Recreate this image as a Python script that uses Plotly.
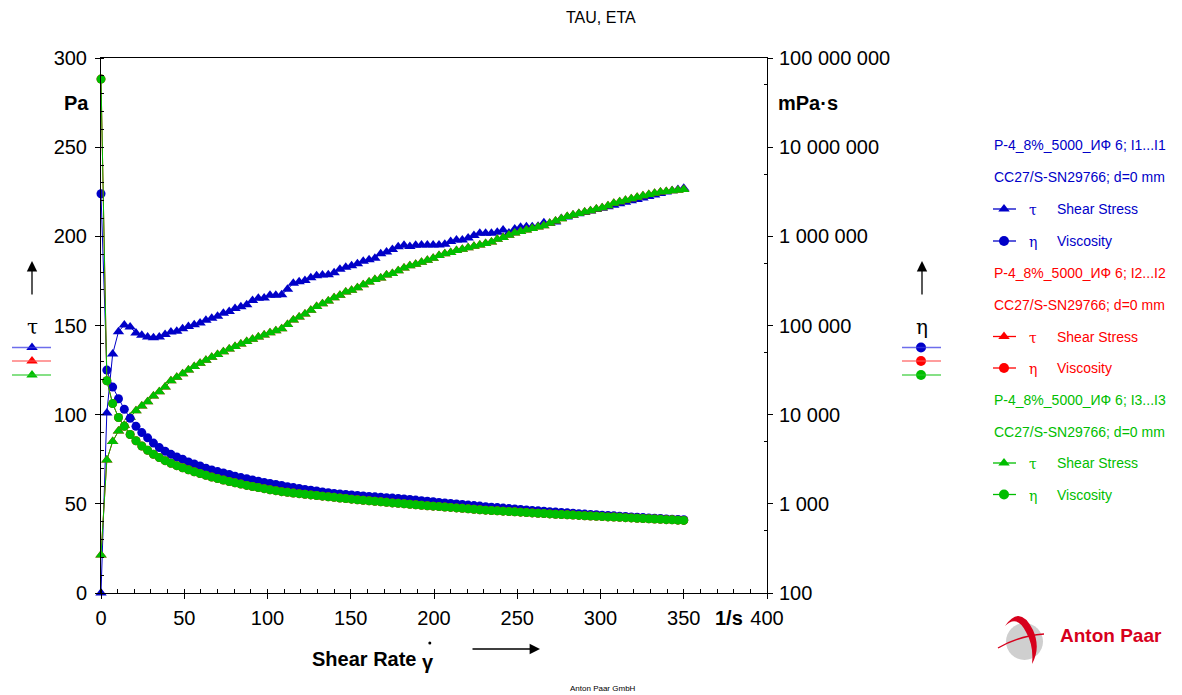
import plotly.graph_objects as go

# ---------------- data ----------------
shear_rate = [0, 3.5, 7, 10.5, 14, 17.5, 21, 24.5, 28, 31.5,
              35, 38.5, 42, 45.5, 49, 52.5, 56, 59.5, 63, 66.5,
              70, 73.5, 77, 80.5, 84, 87.5, 91, 94.5, 98, 101.5,
              105, 108.5, 112, 115.5, 119, 122.5, 126, 129.5, 133, 136.5,
              140, 143.5, 147, 150.5, 154, 157.5, 161, 164.5, 168, 171.5,
              175, 178.5, 182, 185.5, 189, 192.5, 196, 199.5, 203, 206.5,
              210, 213.5, 217, 220.5, 224, 227.5, 231, 234.5, 238, 241.5,
              245, 248.5, 252, 255.5, 259, 262.5, 266, 269.5, 273, 276.5,
              280, 283.5, 287, 290.5, 294, 297.5, 301, 304.5, 308, 311.5,
              315, 318.5, 322, 325.5, 329, 332.5, 336, 339.5, 343, 346.5,
              350]

blue_tau = [0, 101, 134, 146.5, 150.3, 149.2, 145.8, 144.5, 143.6, 143.2,
            143.6, 144.9, 146.4, 146.8, 148.2, 149.4, 150.4, 151.4, 153, 154.1,
            155.2, 156.8, 157.9, 159.6, 160.5, 161.6, 164, 165.3, 165.4, 167,
            167, 167.2, 170.3, 173.7, 174.5, 175.3, 176.8, 177.9, 178.3, 178.5,
            179.6, 181.6, 182.7, 183.5, 184.6, 186, 186.8, 187.7, 190.2, 191.2,
            192.6, 194.2, 195, 194.3, 195, 195.1, 195.1, 195.1, 195.1, 195.6,
            197.1, 198, 198, 199.1, 200.4, 201.7, 201.7, 201.7, 202.3, 203.5,
            201.9, 204.1, 205.1, 205.4, 205.4, 205.7, 207.6, 207.2, 208, 210,
            210.9, 211.8, 212.6, 213.4, 214.2, 215, 215.8, 216.6, 217.5, 218.3,
            219.1, 219.9, 220.7, 221.5, 222.3, 223.2, 224, 224.8, 225.6, 226.3,
            226.9]

blue_eta = [3000000, 31600, 20400, 15100, 11500, 9100, 7400, 6300, 5500, 4800,
            4270, 3890, 3590, 3350, 3160, 2950, 2800, 2655, 2510, 2400,
            2300, 2215, 2130, 2040, 1970, 1915, 1850, 1790, 1740, 1690,
            1650, 1605, 1556, 1520, 1486, 1452, 1422, 1393, 1361, 1334,
            1309, 1292, 1275, 1258, 1242, 1227, 1212, 1198, 1186, 1172,
            1160, 1148, 1135, 1118, 1102, 1086, 1070, 1054, 1038, 1024,
            1010, 996, 982, 968, 956, 944, 930, 918, 907, 896,
            884, 874, 864, 854, 844, 835, 826, 816, 808, 800,
            792, 784, 776, 768, 761, 754, 747, 740, 733, 726,
            720, 713, 707, 701, 695, 689, 684, 678, 673, 668,
            663]

green_tau = [21.3, 74.6, 85, 90.8, 94, 98.5, 102.2, 104.8, 107.2, 110.5,
             112.8, 115.5, 119, 121, 123, 125, 127, 128.8, 130.5, 132.2,
             133.8, 135.3, 136.8, 138.2, 139.6, 141, 142.3, 143.5, 144.7, 145.9,
             147, 148.2, 150.6, 153.1, 154.8, 156.4, 158.6, 160.6, 162.2, 163.8,
             165.6, 167, 168.8, 169.8, 171.1, 172.8, 174.4, 175.8, 176.7, 178.3,
             179.2, 180.7, 182.3, 183.5, 184.3, 185.4, 186.6, 187.7, 189.2, 190.3,
             191, 192, 192.8, 193.6, 194.4, 195.1, 196, 196.8, 198.3, 199.4,
             200.6, 201.9, 202.7, 203.5, 204.4, 205.2, 206, 207.3, 208.6, 209.8,
             211.1, 212, 212.8, 213.6, 214.4, 215.3, 216, 217.1, 218.6, 219.4,
             220.3, 221.1, 221.9, 222.7, 223.5, 224.2, 224.8, 225.2, 225.6, 225.9,
             226.2]

green_eta = [58000000, 24000, 13300, 9300, 7400, 6000, 5100, 4450, 3980, 3600,
             3300, 3050, 2850, 2680, 2540, 2410, 2290, 2190, 2090, 2000,
             1920, 1850, 1780, 1720, 1665, 1610, 1565, 1520, 1480, 1440,
             1405, 1370, 1345, 1320, 1300, 1280, 1260, 1240, 1220, 1200,
             1183, 1164, 1148, 1128, 1111, 1097, 1083, 1068, 1052, 1040,
             1025, 1013, 1002, 990, 977, 965, 953, 941, 932, 922,
             911, 900, 890, 879, 869, 859, 850, 841, 834, 827,
             820, 813, 806, 798, 791, 784, 777, 771, 765, 759,
             754, 748, 742, 736, 730, 725, 719, 714, 710, 705,
             700, 695, 690, 685, 680, 675, 670, 665, 661, 656,
             652]

# interval 2 (red) lies underneath interval 3 (green) in the reference
red_tau = green_tau
red_eta = green_eta

x_ticks = [0, 50, 100, 150, 200, 250, 300, 350, 400]
tau_ticks = [0, 50, 100, 150, 200, 250, 300]
eta_ticks = [100, 1000, 10000, 100000, 1000000, 10000000, 100000000]
eta_ticktext = ["100", "1 000", "10 000", "100 000", "1 000 000", "10 000 000", "100 000 000"]
eta_minor = [500, 5000, 50000, 500000, 5000000, 50000000]

legend_rows = [
    ("P-4_8%_5000_ИФ 6; I1...I1", "CC27/S-SN29766; d=0 mm", "blue"),
    ("P-4_8%_5000_ИФ 6; I2...I2", "CC27/S-SN29766; d=0 mm", "red"),
    ("P-4_8%_5000_ИФ 6; I3...I3", "CC27/S-SN29766; d=0 mm", "green"),
]

# ---------------- styling ----------------
W, H = 1182, 695
PX0, PX1 = 101, 767
PY0, PY1 = 58, 593
FONT = "Liberation Sans, Arial, sans-serif"
COL = {"blue": "#0000C8", "red": "#FF0000", "green": "#00BE00"}
LINECOL = {"blue": "rgba(60,60,230,0.75)", "red": "rgba(255,80,80,0.75)", "green": "rgba(40,200,40,0.75)"}

fig = go.Figure()

series = [("blue", blue_tau, blue_eta), ("red", red_tau, red_eta), ("green", green_tau, green_eta)]
for key, tau, eta in series:
    c = COL[key]
    fig.add_trace(go.Scatter(x=shear_rate, y=tau, mode="lines+markers", xaxis="x", yaxis="y",
                             line=dict(color=c, width=1),
                             marker=dict(symbol="triangle-up", size=10, color=c, line=dict(width=0)),
                             cliponaxis=False, showlegend=False, hoverinfo="skip"))
    fig.add_trace(go.Scatter(x=shear_rate, y=eta, mode="lines+markers", xaxis="x", yaxis="y2",
                             line=dict(color=c, width=1),
                             marker=dict(symbol="circle", size=9, color=c, line=dict(width=0)),
                             cliponaxis=False, showlegend=False, hoverinfo="skip"))

shapes = []
annotations = []

def ann(x, y, text, size=14, color="black", xanchor="center", yanchor="middle", bold=False, family=FONT):
    annotations.append(dict(x=x, y=y, xref="x3", yref="y3", text=("<b>%s</b>" % text) if bold else text,
                            showarrow=False, xanchor=xanchor, yanchor=yanchor,
                            font=dict(family=family, size=size, color=color)))

# title and footer
ann(601, 17, "TAU, ETA", size=16)
ann(603, 688, "Anton Paar GmbH", size=8)

# axis unit labels
ann(91, 103, "Pa", size=20, bold=True, xanchor="right")
ann(776, 103, "mPa·s", size=20, bold=True, xanchor="left")
ann(729, 618, "1/s", size=20, bold=True)

# x-axis title
ann(310, 659, "Shear Rate", size=20, bold=True, xanchor="left")
ann(428, 662, "γ", size=20, bold=True)
shapes.append(dict(type="circle", xref="x3", yref="y3", x0=428.3, x1=431.3, y0=641.5, y1=644.5,
                   fillcolor="black", line=dict(width=0)))
annotations.append(dict(x=540, y=649, ax=471, ay=649, xref="x3", yref="y3", axref="x3", ayref="y3",
                        showarrow=True, arrowhead=2, arrowsize=1.6, arrowwidth=1.3, arrowcolor="black", text=""))

# left and right y-axis symbols with arrows
for xc, sym in [(32, "τ"), (922, "η")]:
    annotations.append(dict(x=xc, y=261, ax=xc, ay=296, xref="x3", yref="y3", axref="x3", ayref="y3",
                            showarrow=True, arrowhead=2, arrowsize=1.6, arrowwidth=1.3, arrowcolor="black", text=""))
    ann(xc, 327, sym, size=20, family="DejaVu Serif, serif")

# small swatches beside the axes
sw_y = {"blue": 347.5, "red": 361, "green": 375}
mk_x, mk_y, mk_c, mk_s = [], [], [], []
for key, yy in sw_y.items():
    shapes.append(dict(type="line", xref="x3", yref="y3", x0=12, x1=51, y0=yy, y1=yy,
                       line=dict(color=LINECOL[key], width=1.5)))
    shapes.append(dict(type="line", xref="x3", yref="y3", x0=902, x1=941, y0=yy, y1=yy,
                       line=dict(color=LINECOL[key], width=1.5)))
    mk_x += [32, 921]; mk_y += [yy, yy]; mk_c += [COL[key], COL[key]]; mk_s += ["triangle-up", "circle"]

# right-hand legend
row_y = [145, 177, 209, 241, 272.5, 304.5, 336.5, 368, 400, 431.5, 463, 494.5]
for i, (l1, l2, key) in enumerate(legend_rows):
    c = COL[key]
    ann(992, row_y[4 * i], l1, size=14, color=c, xanchor="left")
    ann(992, row_y[4 * i + 1], l2, size=14, color=c, xanchor="left")
    for j, (sym, mark, label) in enumerate([("τ", "triangle-up", "Shear Stress"), ("η", "circle", "Viscosity")]):
        yy = row_y[4 * i + 2 + j]
        shapes.append(dict(type="line", xref="x3", yref="y3", x0=993, x1=1016, y0=yy, y1=yy,
                           line=dict(color=c, width=1.3)))
        mk_x.append(1004); mk_y.append(yy); mk_c.append(c); mk_s.append(mark)
        ann(1033, yy + 1, sym, size=14, color=c, family="DejaVu Serif, serif")
        ann(1055, yy, label, size=14, color=c, xanchor="left")

fig.add_trace(go.Scatter(x=mk_x, y=mk_y, mode="markers", xaxis="x3", yaxis="y3",
                         marker=dict(symbol=mk_s, color=mk_c, size=10, line=dict(width=0)),
                         showlegend=False, hoverinfo="skip", cliponaxis=False))

# Anton Paar logo (approximation)
shapes.append(dict(type="circle", xref="x3", yref="y3", x0=1006, x1=1043, y0=623, y1=660,
                   fillcolor="#CFCFCF", line=dict(width=0), layer="above"))
shapes.append(dict(type="path", xref="x3", yref="y3",
                   path="M 1005 626 Q 1020 604 1033 630 Q 1041 648 1032 664 Q 1034 646 1026 632 Q 1017 614 1005 626 Z",
                   fillcolor="#D7001C", line=dict(width=0), layer="above"))
shapes.append(dict(type="path", xref="x3", yref="y3", path="M 998 648 Q 1018 636 1044 634",
                   line=dict(color="#D7001C", width=1.4), layer="above"))
ann(1058, 635, "Anton Paar", size=19, color="#D7001C", bold=True, xanchor="left")

axis_common = dict(showgrid=False, zeroline=False, showline=True, linecolor="black", linewidth=1,
                   ticks="outside", ticklen=5, tickcolor="black", tickwidth=1, automargin=False,
                   tickfont=dict(family=FONT, size=20, color="black"))

fig.update_layout(
    width=W, height=H,
    margin=dict(l=0, r=0, t=0, b=0, pad=0, autoexpand=False),
    paper_bgcolor="white", plot_bgcolor="rgba(0,0,0,0)",
    showlegend=False,
    hovermode=False,
    xaxis=dict(domain=[PX0 / W, PX1 / W], range=[0, 400], tickvals=x_ticks, anchor="y", mirror=True,
               minor=dict(dtick=10, tick0=0, ticks="inside", ticklen=4, tickcolor="black"),
               ticklabelstandoff=2, **axis_common),
    yaxis=dict(domain=[(H - PY1) / H, (H - PY0) / H], range=[0, 300], tickvals=tau_ticks, anchor="x",
               minor=dict(dtick=10, tick0=0, ticks="inside", ticklen=3, tickcolor="black"),
               ticklabelstandoff=4, **axis_common),
    yaxis2=dict(type="log", range=[2, 8], overlaying="y", side="right", anchor="x",
                tickvals=eta_ticks, ticktext=eta_ticktext,
                minor=dict(tickvals=eta_minor, ticks="inside", ticklen=3, tickcolor="black"),
                ticklabelstandoff=2, **axis_common),
    xaxis3=dict(domain=[0, 1], range=[0, W], visible=False, anchor="y3", fixedrange=True, automargin=False),
    yaxis3=dict(domain=[0, 1], range=[H, 0], visible=False, anchor="x3", fixedrange=True, automargin=False),
    shapes=shapes,
    annotations=annotations,
)

fig.write_html("out.html", config={"displayModeBar": False, "staticPlot": True},
               post_script="document.body.style.margin='0px';document.body.style.overflow='hidden';")
